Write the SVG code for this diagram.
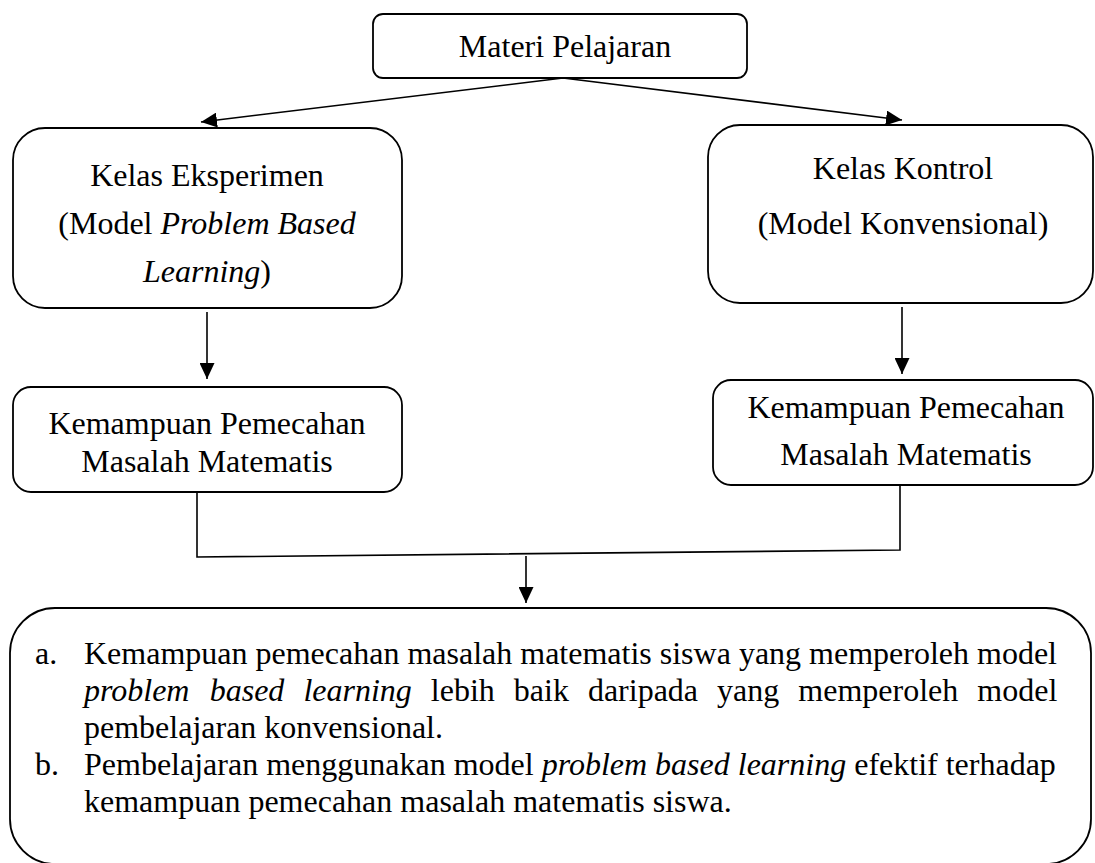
<svg xmlns="http://www.w3.org/2000/svg" width="1095" height="863" viewBox="0 0 1095 863">
<style>
.box{fill:#fff;stroke:#000;stroke-width:1.8}
.t{font-family:"Liberation Serif","Times New Roman",serif;font-size:32px;fill:#000}
.c{text-anchor:middle}
.i{font-style:italic}
.ln{fill:none;stroke:#000;stroke-width:1.6}
</style>
<defs>
<marker id="ah" markerUnits="userSpaceOnUse" markerWidth="17" markerHeight="15" refX="16" refY="7.5" orient="auto">
<path d="M0,0 L16,7.5 L0,15 z" fill="#000"/>
</marker>
</defs>
<rect width="1095" height="863" fill="#fff"/>
<g id="connectors">
<path class="ln" d="M563,78 L201,122" marker-end="url(#ah)"/>
<path class="ln" d="M563,78 L902,120" marker-end="url(#ah)"/>
<path class="ln" d="M207,312 L207,379" marker-end="url(#ah)"/>
<path class="ln" d="M902,307 L902,374" marker-end="url(#ah)"/>
<path class="ln" d="M197,492 L197,557 L900,550 L900,485"/>
<path class="ln" d="M526,556 L526,603" marker-end="url(#ah)"/>
</g>
<g id="materi">
<rect class="box" x="373" y="14" width="374" height="64" rx="10"/>
<text class="t c" x="565" y="57">Materi Pelajaran</text>
</g>
<g id="eksperimen">
<rect class="box" x="13" y="128" width="389" height="180" rx="32"/>
<text class="t c" x="207" y="186">Kelas Eksperimen</text>
<text class="t c" x="207" y="234">(Model <tspan class="i">Problem Based</tspan></text>
<text class="t c" x="207" y="282"><tspan class="i">Learning</tspan>)</text>
</g>
<g id="kontrol">
<rect class="box" x="708" y="125" width="385" height="178" rx="32"/>
<text class="t c" x="903" y="179">Kelas Kontrol</text>
<text class="t c" x="903" y="234">(Model Konvensional)</text>
</g>
<g id="kpm-eksperimen">
<rect class="box" x="13" y="387" width="389" height="105" rx="18"/>
<text class="t c" x="207" y="434">Kemampuan Pemecahan</text>
<text class="t c" x="207" y="472">Masalah Matematis</text>
</g>
<g id="kpm-kontrol">
<rect class="box" x="713" y="380" width="380" height="105" rx="18"/>
<text class="t c" x="906" y="418">Kemampuan Pemecahan</text>
<text class="t c" x="906" y="465">Masalah Matematis</text>
</g>
<g id="kesimpulan">
<rect class="box" x="10" y="608" width="1081" height="256" rx="45"/>
<text class="t" x="35" y="664">a.</text>
<text class="t" x="84" y="664">Kemampuan pemecahan masalah matematis siswa yang memperoleh model</text>
<text class="t" y="701"><tspan class="i" x="84">problem</tspan><tspan class="i" x="209.7">based</tspan><tspan class="i" x="303.4">learning</tspan><tspan x="430.8">lebih</tspan><tspan x="513.8">baik</tspan><tspan x="587.9">daripada</tspan><tspan x="717.1">yang</tspan><tspan x="798.3">memperoleh</tspan><tspan x="977.3">model</tspan></text>
<text class="t" x="84" y="738">pembelajaran konvensional.</text>
<text class="t" x="35" y="775">b.</text>
<text class="t" x="84" y="775">Pembelajaran menggunakan model <tspan class="i">problem based learning</tspan> efektif terhadap</text>
<text class="t" x="84" y="812">kemampuan pemecahan masalah matematis siswa.</text>
</g>
</svg>
